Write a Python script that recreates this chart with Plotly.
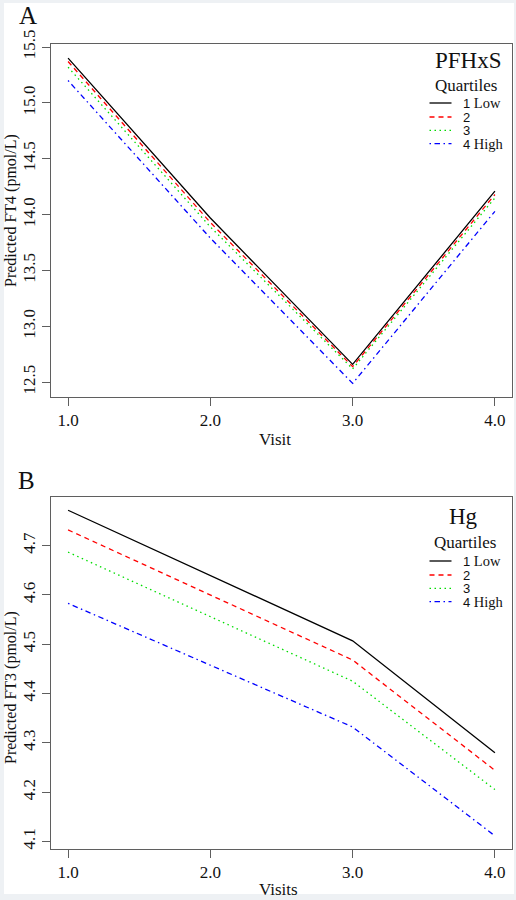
import plotly.graph_objects as go

# ---------------- data ----------------
visits = [1, 2, 3, 4]
quartile_nums = ["1", "2", "3", "4"]
quartile_words = ["Low", "", "", "High"]

ft4_q1 = [15.40, 13.97, 12.66, 14.21]
ft4_q2 = [15.37, 13.93, 12.64, 14.18]
ft4_q3 = [15.32, 13.89, 12.62, 14.15]
ft4_q4 = [15.20, 13.79, 12.49, 14.03]

ft3_q1 = [4.772, 4.640, 4.507, 4.280]
ft3_q2 = [4.732, 4.600, 4.468, 4.244]
ft3_q3 = [4.687, 4.556, 4.425, 4.205]
ft3_q4 = [4.583, 4.457, 4.332, 4.111]

x_ticks = [1, 2, 3, 4]
ft4_ticks = [12.5, 13.0, 13.5, 14.0, 14.5, 15.0, 15.5]
ft3_ticks = [4.1, 4.2, 4.3, 4.4, 4.5, 4.6, 4.7]

colors = ["#000000", "#ff0000", "#00dd00", "#0000ff"]
dashes = ["solid", "5px,4px", "1.5px,3.5px", "1.5px,3.5px,5.5px,3.5px"]

# ---------------- geometry helpers ----------------
W, H = 516, 900
ML, MR, MT, MB = 51, 4, 44, 51
PW, PH = W - ML - MR, H - MT - MB


def px_x(x):
    return (x - ML) / PW


def px_y(y):
    return (H - MB - y) / PH


SERIF = "Liberation Serif"
SANS = "Liberation Sans"
FRAME = "#5f5f5f"

fig = go.Figure()

panels = [
    dict(xa="x", ya="y", series=[ft4_q1, ft4_q2, ft4_q3, ft4_q4]),
    dict(xa="x2", ya="y2", series=[ft3_q1, ft3_q2, ft3_q3, ft3_q4]),
]
for p in panels:
    for i, vals in enumerate(p["series"]):
        fig.add_trace(go.Scatter(
            x=visits, y=vals, mode="lines",
            line=dict(color=colors[i], width=1.3, dash=dashes[i]),
            showlegend=False, hoverinfo="skip",
            xaxis=p["xa"], yaxis=p["ya"]))

axis_common = dict(
    showline=True, linecolor=FRAME, linewidth=1, mirror=True,
    ticks="outside", ticklen=8, tickcolor=FRAME, tickwidth=1,
    showgrid=False, zeroline=False, automargin=False,
    tickfont=dict(family=SERIF, size=17, color="#111111"),
)

top_dom = [px_y(396.7), 1.0]
bot_dom = [0.0, px_y(496.7)]

fig.update_layout(
    width=W, height=H,
    margin=dict(l=ML, r=MR, t=MT, b=MB),
    paper_bgcolor="#eef1f4", plot_bgcolor="white",
    xaxis=dict(axis_common, domain=[0, 1], anchor="y", range=[0.88, 4.12],
               tickvals=x_ticks, tickformat=".1f"),
    yaxis=dict(axis_common, domain=top_dom, anchor="x", range=[12.371, 15.527],
               tickvals=ft4_ticks, tickformat=".1f", tickangle=-90),
    xaxis2=dict(axis_common, domain=[0, 1], anchor="y2", range=[0.88, 4.12],
                tickvals=x_ticks, tickformat=".1f"),
    yaxis2=dict(axis_common, domain=bot_dom, anchor="x2", range=[4.0844, 4.7995],
                tickvals=ft3_ticks, tickformat=".1f", tickangle=-90),
)

shapes = [dict(type="rect", xref="paper", yref="paper", layer="below",
               x0=px_x(4), x1=px_x(514), y0=px_y(894), y1=px_y(3),
               fillcolor="white", line=dict(width=0))]
ann = []


def text(x, y, s, size, angle=0, xanchor="center", family=SERIF):
    ann.append(dict(x=px_x(x), y=px_y(y), xref="paper", yref="paper", text=s,
                    showarrow=False, textangle=angle, xanchor=xanchor,
                    yanchor="middle", font=dict(family=family, size=size, color="#111111")))


# panel letters
text(28, 16, "A", 25)
text(26, 480, "B", 25)
# axis titles
text(11, 211, "Predicted FT4 (pmol/L)", 16, angle=-90)
text(11, 688, "Predicted FT3 (pmol/L)", 16, angle=-90)
text(275, 440, "Visit", 17)
text(278, 890, "Visits", 17)

# legends
legends = [
    dict(title="PFHxS", tx=468, ty=61, qx=466, qy=85, rows=[103, 117, 130.3, 143.7]),
    dict(title="Hg", tx=463, ty=516, qx=465, qy=542, rows=[561, 575, 588.3, 601.7]),
]
for lg in legends:
    text(lg["tx"], lg["ty"], lg["title"], 23)
    text(lg["qx"], lg["qy"], "Quartiles", 17)
    for i, ry in enumerate(lg["rows"]):
        shapes.append(dict(type="line", xref="paper", yref="paper",
                           x0=px_x(429.5), x1=px_x(451.5), y0=px_y(ry), y1=px_y(ry),
                           line=dict(color=colors[i], width=1.3, dash=dashes[i])))
        lab = (f'<span style="font-family:{SANS};font-size:13px">{quartile_nums[i]}</span>'
               + (f' {quartile_words[i]}' if quartile_words[i] else ''))
        text(461, ry, lab, 14.5, xanchor="left")

fig.update_layout(shapes=shapes, annotations=ann)
fig.write_html(
    "out.html",
    config={"displayModeBar": False},
    post_script="document.body.style.margin='0';document.body.style.overflow='hidden';"
                "document.documentElement.style.overflow='hidden';",
)
